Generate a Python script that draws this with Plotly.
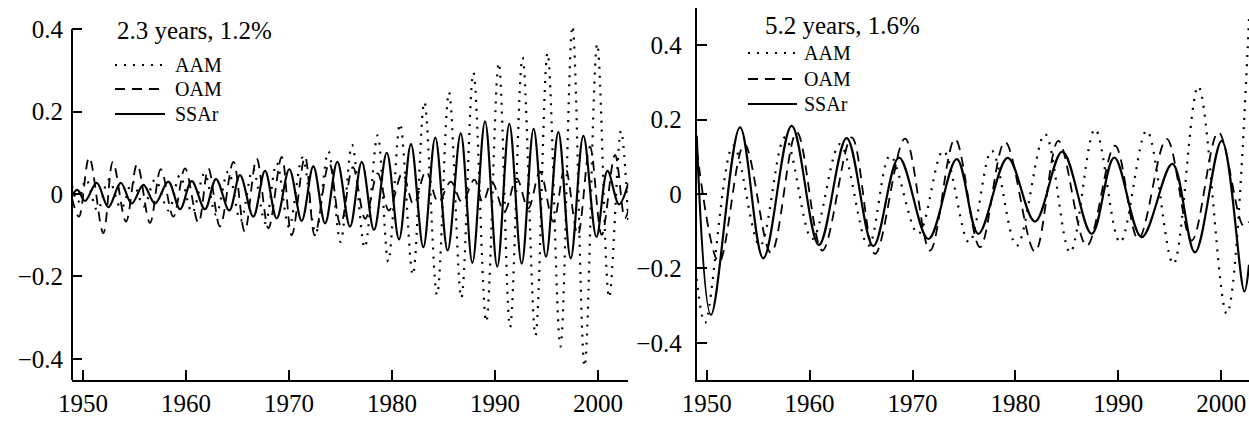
import plotly.graph_objects as go

# ---------------- Left panel: 2.3 years, 1.2% ----------------
L_ssar_t = [1948.93, 1949.45, 1950.19, 1951.33, 1952.46, 1953.66, 1954.73, 1955.86, 1956.99, 1958.28,
            1959.42, 1960.55, 1961.84, 1962.91, 1964.2, 1965.24, 1966.53, 1967.67, 1968.8, 1970.03,
            1971.23, 1972.36, 1973.5, 1974.69, 1975.92, 1977.06, 1978.25, 1979.49, 1980.68, 1981.84,
            1983.04, 1984.2, 1985.4, 1986.67, 1987.8, 1989.03, 1990.22, 1991.39, 1992.59, 1993.75,
            1994.95, 1996.15, 1997.35, 1998.58, 1999.85, 2000.92, 2002.04, 2002.94]
L_ssar_v = [-0.004, 0.01, -0.017, 0.027, -0.032, 0.027, -0.023, 0.022, -0.023, 0.03,
            -0.037, 0.031, -0.037, 0.036, -0.04, 0.046, -0.055, 0.056, -0.059, 0.06,
            -0.065, 0.067, -0.071, 0.078, -0.079, 0.078, -0.087, 0.1, -0.11, 0.121,
            -0.129, 0.137, -0.137, 0.147, -0.167, 0.176, -0.176, 0.17, -0.169, 0.158,
            -0.152, 0.15, -0.156, 0.141, -0.104, 0.056, -0.025, 0.026]

L_oam_t = [1948.93, 1949.6, 1950.6, 1951.97, 1952.9, 1954.17, 1955.25, 1956.5, 1957.55, 1958.77,
           1959.9, 1961.2, 1962.17, 1963.3, 1964.6, 1965.7, 1966.86, 1968.0, 1969.29, 1970.26,
           1971.55, 1972.5, 1973.9, 1975.0, 1976.2, 1977.4, 1978.6, 1979.7, 1981.0, 1982.1,
           1983.3, 1984.5, 1985.7, 1986.8, 1988.0, 1988.8, 1989.7, 1990.9, 1992.1, 1993.23,
           1994.37, 1995.66, 1996.8, 1998.03, 1999.22, 2000.36, 2001.65, 2002.6, 2002.94]
L_oam_v = [-0.01, -0.055, 0.089, -0.095, 0.078, -0.067, 0.072, -0.07, 0.06, -0.055,
           0.062, -0.07, 0.062, -0.079, 0.078, -0.091, 0.086, -0.083, 0.09, -0.1,
           0.09, -0.1, 0.075, -0.075, 0.065, -0.06, 0.05, -0.04, 0.05, -0.025,
           0.055, -0.02, 0.03, -0.02, 0.035, -0.02, 0.03, -0.043, 0.038, -0.035,
           0.054, -0.067, 0.066, -0.099, 0.115, -0.099, 0.095, -0.059, -0.04]

L_aam_t = [1948.93, 1949.5, 1950.3, 1951.4, 1952.5, 1953.7, 1954.8, 1955.9, 1957.0, 1958.3,
           1959.4, 1960.6, 1961.8, 1962.9, 1964.1, 1965.3, 1966.5, 1967.7, 1968.8, 1970.0,
           1971.3, 1972.59, 1973.82, 1975.0, 1976.12, 1977.35, 1978.6, 1979.64, 1980.78, 1982.02,
           1983.14, 1984.37, 1985.53, 1986.73, 1987.9, 1989.15, 1990.36, 1991.46, 1992.67, 1993.93,
           1995.1, 1996.35, 1997.52, 1998.7, 1999.92, 2001.08, 2002.23, 2002.94]
L_aam_v = [0.02, -0.02, 0.035, -0.04, 0.035, -0.035, 0.03, -0.03, 0.035, -0.04,
           0.045, -0.045, 0.05, -0.05, 0.055, -0.065, 0.06, -0.07, 0.075, -0.08,
           0.088, -0.095, 0.103, -0.116, 0.119, -0.13, 0.142, -0.164, 0.17, -0.196,
           0.223, -0.245, 0.247, -0.252, 0.294, -0.31, 0.318, -0.323, 0.331, -0.343,
           0.342, -0.37, 0.407, -0.418, 0.364, -0.251, 0.153, -0.07]

# ---------------- Right panel: 5.2 years, 1.6% ----------------
R_ssar_t = [1949.03, 1950.42, 1953.24, 1955.5, 1958.26, 1960.91, 1963.6, 1966.19, 1968.69, 1971.54,
            1974.3, 1976.4, 1979.25, 1981.9, 1984.56, 1987.41, 1989.61, 1992.27, 1995.25, 1997.45,
            2000.05, 2002.25, 2002.7]
R_ssar_v = [0.157, -0.325, 0.179, -0.173, 0.183, -0.137, 0.15, -0.14, 0.098, -0.121,
            0.094, -0.107, 0.097, -0.074, 0.114, -0.107, 0.098, -0.116, 0.081, -0.157,
            0.143, -0.262, -0.19]

R_oam_t = [1949.03, 1951.2, 1953.66, 1956.25, 1958.75, 1961.24, 1964.09, 1966.36, 1969.27, 1971.7,
           1974.13, 1976.56, 1978.99, 1981.9, 1984.17, 1986.93, 1989.68, 1991.94, 1994.7, 1997.13,
           1999.72, 2002.15, 2002.7]
R_oam_v = [0.12, -0.183, 0.134, -0.158, 0.166, -0.152, 0.152, -0.161, 0.149, -0.152,
           0.148, -0.143, 0.14, -0.155, 0.143, -0.139, 0.13, -0.121, 0.148, -0.125,
           0.166, -0.085, -0.075]

R_aam_t = [1949.03, 1949.84, 1952.59, 1955.18, 1957.61, 1960.26, 1962.95, 1965.71, 1967.82, 1970.56,
           1972.99, 1975.5, 1977.7, 1980.13, 1982.88, 1985.31, 1987.74, 1990.17, 1992.76, 1995.35,
           1997.77, 2000.53, 2002.7]
R_aam_v = [-0.228, -0.346, 0.13, -0.139, 0.152, -0.121, 0.134, -0.139, 0.103, -0.107,
           0.116, -0.13, 0.116, -0.139, 0.161, -0.157, 0.174, -0.13, 0.17, -0.188,
           0.289, -0.322, 0.47]

titles = ["2.3 years, 1.2%", "5.2 years, 1.6%"]
legend_names = ["AAM", "OAM", "SSAr"]
x_ticks = [1950, 1960, 1970, 1980, 1990, 2000]
yticks_left = [-0.4, -0.2, 0, 0.2, 0.4]
yticks_right = [-0.4, -0.2, 0, 0.2, 0.4]

W, H = 1249, 424
FONT = "Liberation Serif, Times New Roman, serif"
styles = {"AAM": dict(dash="2px,7px", width=2.2),
          "OAM": dict(dash="10px,7px", width=1.8),
          "SSAr": dict(dash="solid", width=2.2)}

fig = go.Figure()
panels = [
    ("x", "y", [(L_aam_t, L_aam_v, "AAM"), (L_oam_t, L_oam_v, "OAM"), (L_ssar_t, L_ssar_v, "SSAr")]),
    ("x2", "y2", [(R_aam_t, R_aam_v, "AAM"), (R_oam_t, R_oam_v, "OAM"), (R_ssar_t, R_ssar_v, "SSAr")]),
]
for xa, ya, series in panels:
    for t, v, name in series:
        st = styles[name]
        fig.add_trace(go.Scatter(x=t, y=v, mode="lines", name=name, showlegend=False,
                                 xaxis=xa, yaxis=ya, hoverinfo="skip",
                                 line=dict(color="black", width=st["width"], dash=st["dash"],
                                           shape="spline", smoothing=1.0)))

ybot = 1 - 380 / H
ytop = 1 - 8 / H
axis_common = dict(ticks="inside", ticklen=10, tickwidth=2, tickcolor="black",
                   showgrid=False, zeroline=False, automargin=False,
                   tickfont=dict(family=FONT, size=25, color="black"))
fig.update_layout(
    width=W, height=H, autosize=False, margin=dict(l=0, r=0, t=0, b=0, pad=0),
    paper_bgcolor="white", plot_bgcolor="white",
    xaxis=dict(domain=[72 / W, 628.3 / W], range=[1948.93, 2002.94], tickvals=x_ticks,
               showline=True, linewidth=2, linecolor="black", anchor="y", **axis_common),
    yaxis=dict(domain=[ybot, ytop], range=[-0.451, 0.451], tickvals=yticks_left,
               showline=False, anchor="x", ticklabelstandoff=8, **axis_common),
    xaxis2=dict(domain=[696.7 / W, 1.0], range=[1949.03, 2002.7], tickvals=x_ticks,
                showline=True, linewidth=2, linecolor="black", anchor="y2", **axis_common),
    yaxis2=dict(domain=[ybot, ytop], range=[-0.5, 0.5], tickvals=yticks_right,
                showline=True, linewidth=2, linecolor="black", anchor="x2",
                ticklabelstandoff=8, **axis_common),
)

# left y-axis line stops at the 0.4 tick as in the reference
fig.add_shape(type="line", xref="paper", yref="y", x0=72 / W, x1=72 / W, y0=-0.451, y1=0.4,
              line=dict(color="black", width=2))

# titles and hand-made legends
title_pos = [(194, 31), (842, 25)]
legend_pos = [dict(x0=115, x1=165, tx=173, rows=[65, 89, 114]),
              dict(x0=748, x1=797, tx=802, rows=[53, 79, 104])]
for (cx, cy), title in zip(title_pos, titles):
    fig.add_annotation(xref="paper", yref="paper", x=cx / W, y=1 - cy / H, text=title,
                       showarrow=False, xanchor="center", yanchor="middle",
                       font=dict(family=FONT, size=25, color="black"))
for lp in legend_pos:
    for name, ry in zip(legend_names, lp["rows"]):
        st = styles[name]
        fig.add_shape(type="line", xref="paper", yref="paper",
                      x0=lp["x0"] / W, x1=lp["x1"] / W, y0=1 - ry / H, y1=1 - ry / H,
                      line=dict(color="black", width=st["width"], dash=st["dash"]))
        fig.add_annotation(xref="paper", yref="paper", x=lp["tx"] / W, y=1 - ry / H, text=name,
                           showarrow=False, xanchor="left", yanchor="middle",
                           font=dict(family=FONT, size=20, color="black"))

fig.write_html("out.html", config={"displayModeBar": False},
               post_script="document.body.style.margin='0';document.body.style.overflow='hidden';")
